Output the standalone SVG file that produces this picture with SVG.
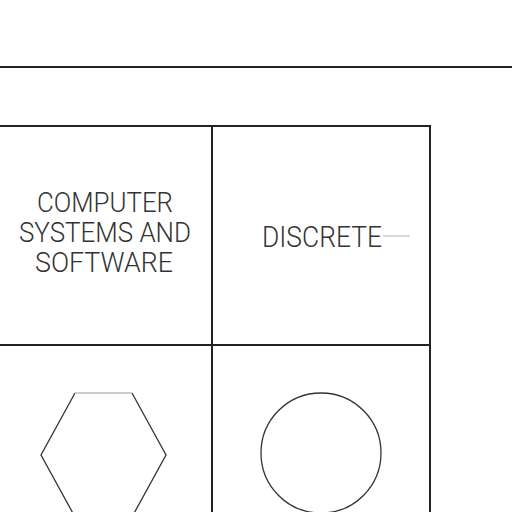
<svg xmlns="http://www.w3.org/2000/svg" width="512" height="512" viewBox="0 0 512 512">
<style>
.ln{stroke:#222;stroke-width:2;fill:none}
.sh{stroke:#333;stroke-width:1.3;fill:none}
.lbl{font-family:Roboto,"Liberation Sans",Arial,sans-serif;font-weight:300;fill:#333;text-anchor:middle}
</style>
<rect width="512" height="512" fill="#fff"/>
<g id="rule"><line class="ln" x1="0" y1="67" x2="512" y2="67"/></g>
<g id="grid">
<line class="ln" x1="0" y1="126" x2="431" y2="126"/>
<line class="ln" x1="0" y1="345" x2="431" y2="345"/>
<line class="ln" x1="212" y1="126" x2="212" y2="512"/>
<line class="ln" x1="430" y1="126" x2="430" y2="512"/>
</g>
<g id="cell-computer">
<text class="lbl" font-size="28" x="105" y="212" textLength="136" lengthAdjust="spacingAndGlyphs">COMPUTER</text>
<text class="lbl" font-size="28" x="105" y="242" textLength="172" lengthAdjust="spacingAndGlyphs">SYSTEMS AND</text>
<text class="lbl" font-size="28" x="104" y="272" textLength="138" lengthAdjust="spacingAndGlyphs">SOFTWARE</text>
</g>
<g id="cell-discrete">
<text class="lbl" font-size="30" x="322" y="247" textLength="120" lengthAdjust="spacingAndGlyphs">DISCRETE</text>
<line x1="383" y1="236" x2="410" y2="236" stroke="#ccc" stroke-width="1.5"/>
</g>
<g id="hexagon">
<polyline class="sh" points="75,393 41,455 75,517 132,517 166,455 132,393"/>
<line x1="75" y1="393" x2="132" y2="393" stroke="#bbb" stroke-width="1.3"/>
</g>
<g id="circle"><circle class="sh" cx="321" cy="453" r="60"/></g>
</svg>
